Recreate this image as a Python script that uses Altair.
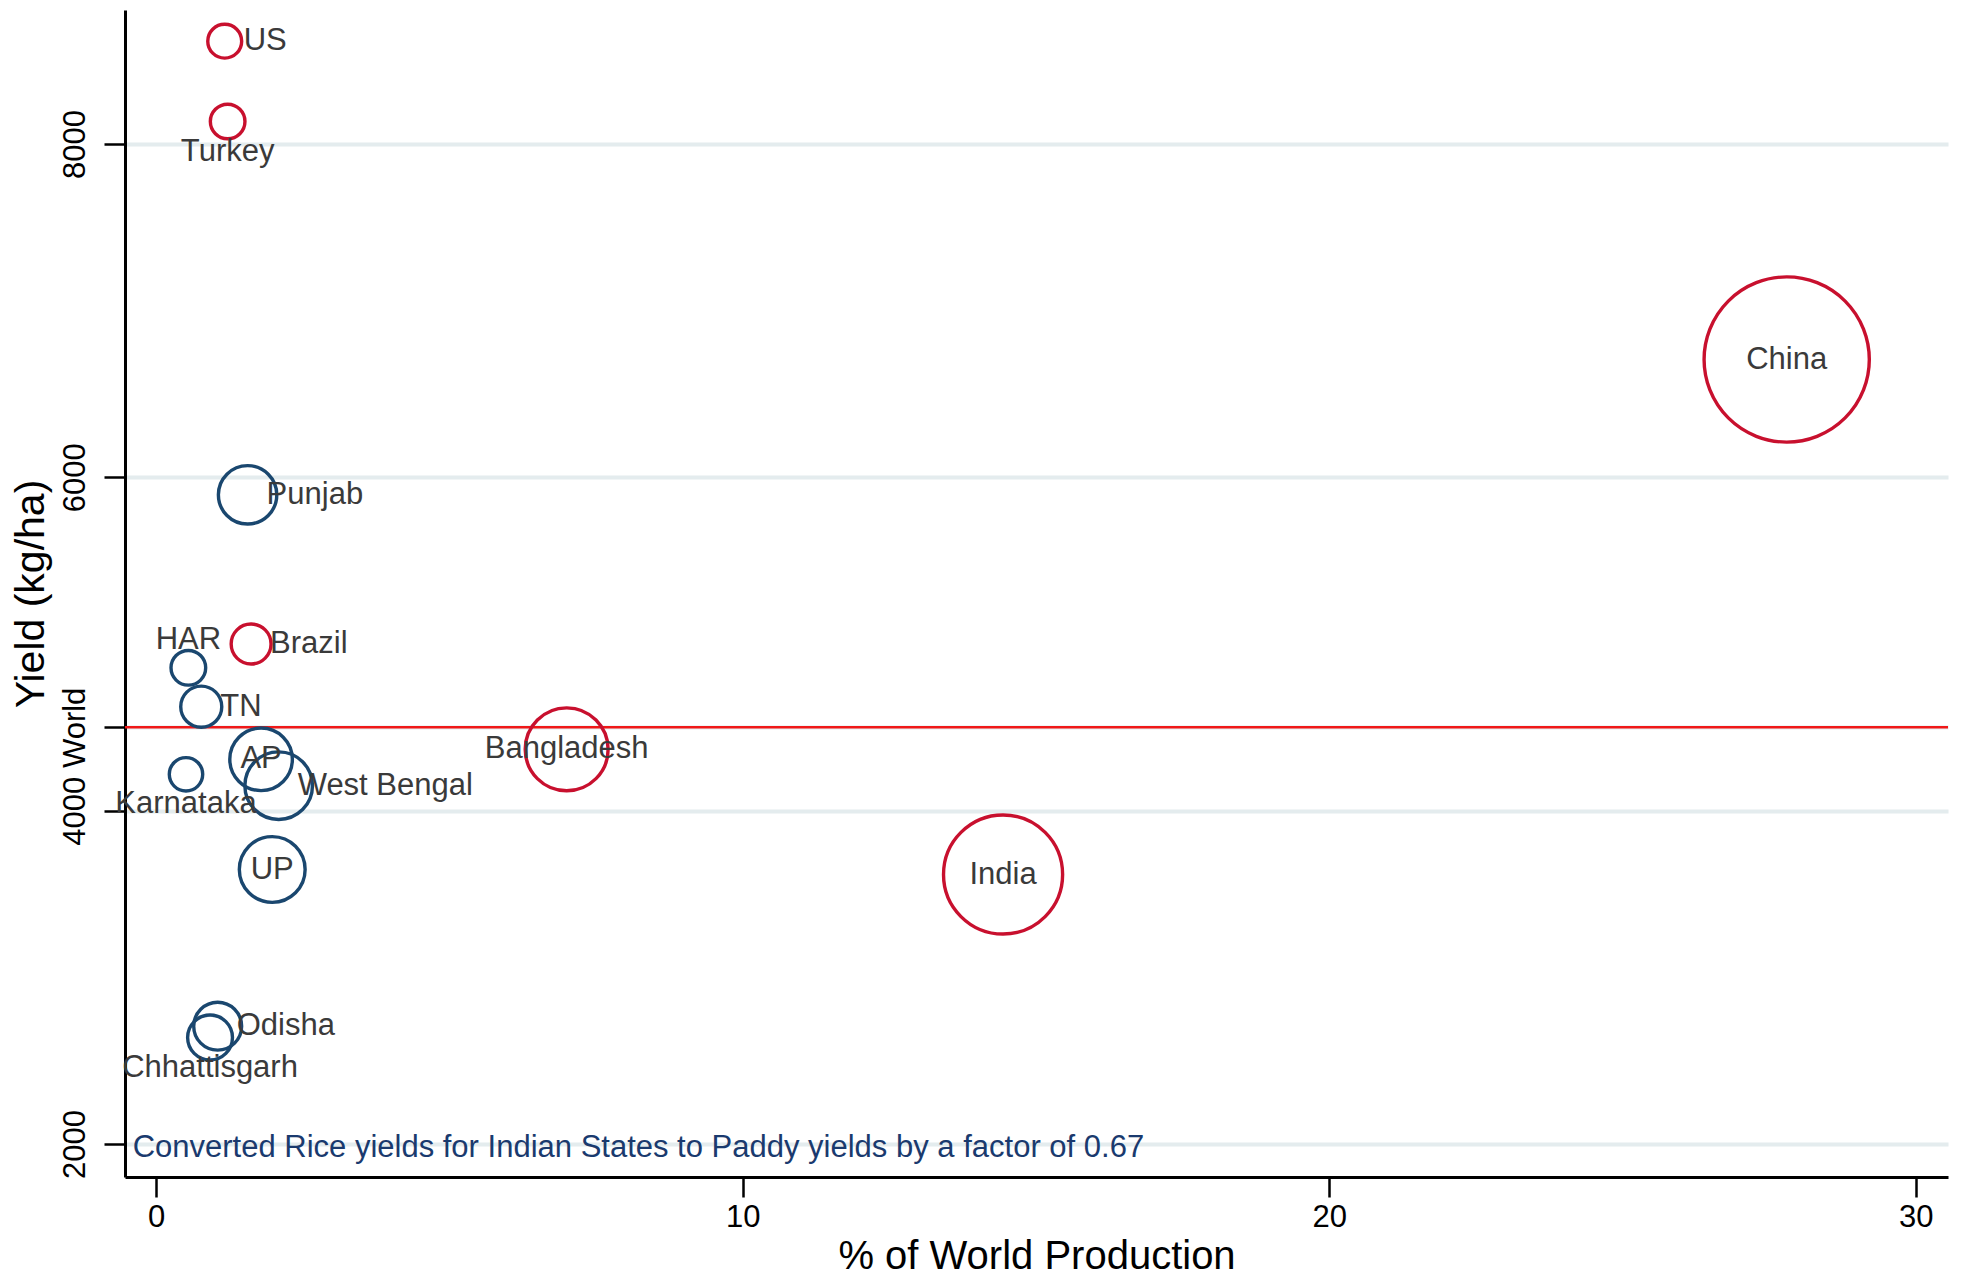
import altair as alt
import pandas as pd

# Rice: share of world production (%) vs. paddy yield (kg/ha)
countries = ["US", "Turkey", "China", "Brazil", "Bangladesh", "India"]
country_share = [1.17, 1.22, 27.8, 1.62, 7.0, 14.44]
country_yield = [8617, 8135, 6707, 5000, 4368, 3617]
country_labelpos = ["right", "bottom", "center", "right", "center", "center"]

states = ["Punjab", "HAR", "TN", "AP", "West Bengal", "Karnataka", "UP", "Odisha", "Chhattisgarh"]
state_share = [1.56, 0.55, 0.77, 1.79, 2.09, 0.51, 1.98, 1.05, 0.92]
state_yield = [5895, 4857, 4624, 4308, 4150, 4218, 3647, 2707, 2639]
state_labelpos = ["right", "top", "right", "center", "right", "bottom", "center", "right", "bottom"]

world_yield = 4500
y_ticks = [2000, 4000, 6000, 8000]
x_ticks = [0, 10, 20, 30]
note = "Converted Rice yields for Indian States to Paddy yields by a factor of 0.67"
note_x, note_y = -0.4, 1975

RED = "#C8102E"
NAVY = "#1A476F"
LABEL = "#3a3a3a"
FONT = "Liberation Sans"

cdf = pd.DataFrame({"name": countries, "share": country_share,
                    "yld": country_yield, "pos": country_labelpos, "grp": "country"})
sdf = pd.DataFrame({"name": states, "share": state_share,
                    "yld": state_yield, "pos": state_labelpos, "grp": "state"})
alldf = pd.concat([cdf, sdf], ignore_index=True)

xscale = alt.Scale(domain=[-0.53, 30.55], nice=False, zero=False)
yscale = alt.Scale(domain=[1802, 8804], nice=False, zero=False)

xaxis = alt.Axis(values=x_ticks, title="% of World Production", grid=False,
                 labelFontSize=31, titleFontSize=40, titlePadding=4,
                 labelPadding=5, tickSize=20)
yaxis = alt.Axis(values=y_ticks + [world_yield], title="Yield (kg/ha)",
                 format="d", labelAngle=270, labelAlign="center", labelBaseline="bottom",
                 labelExpr=f"datum.value == {world_yield} ? 'World' : datum.label",
                 labelOverlap=False, labelFontSize=31, titleFontSize=41,
                 titlePadding=7, labelPadding=13, tickSize=21,
                 grid=True, gridColor="#E4ECEE", gridWidth=4)

X = alt.X("share:Q", scale=xscale, axis=xaxis)
Y = alt.Y("yld:Q", scale=yscale, axis=yaxis)

world = alt.Chart(pd.DataFrame({"yld": [world_yield]})).mark_rule(
    color="#F01818", strokeWidth=2.5
).encode(y=alt.Y("yld:Q", scale=yscale, axis=yaxis))

# bubble area proportional to share, scaled separately for countries and states
country_pts = alt.Chart(cdf).mark_point(
    shape="circle", filled=False, color=RED, strokeWidth=3.4, opacity=1
).encode(
    x=X, y=Y,
    size=alt.Size("share:Q", scale=alt.Scale(domain=[0, 27.8], range=[0, 27300]), legend=None),
)

state_pts = alt.Chart(sdf).mark_point(
    shape="circle", filled=False, color=NAVY, strokeWidth=3.4, opacity=1
).encode(
    x=X, y=Y,
    size=alt.Size("share:Q", scale=alt.Scale(domain=[0, 2.09], range=[0, 4570]), legend=None),
)

base_lbl = alt.Chart(alldf).encode(x=X, y=Y, text="name:N")
lbl_kw = dict(font=FONT, fontSize=31, color=LABEL, baseline="middle")
labels = [
    base_lbl.transform_filter("datum.pos == 'center'").mark_text(align="center", **lbl_kw),
    base_lbl.transform_filter("datum.pos == 'right'").mark_text(align="left", dx=19, **lbl_kw),
    base_lbl.transform_filter("datum.pos == 'top'").mark_text(align="center", dy=-28, **lbl_kw),
    base_lbl.transform_filter("datum.pos == 'bottom'").mark_text(align="center", dy=30, **lbl_kw),
]

note_layer = alt.Chart(pd.DataFrame({"share": [note_x], "yld": [note_y], "t": [note]})).mark_text(
    align="left", baseline="middle", font=FONT, fontSize=31, color="#1A3A6E"
).encode(x=X, y=Y, text="t:N")

chart = alt.layer(world, country_pts, state_pts, *labels, note_layer).resolve_scale(
    size="independent"
).properties(
    width=1823, height=1167,
    autosize=alt.AutoSizeParams(type="none"),
    padding={"left": 125, "top": 10, "right": 15, "bottom": 101},
    background="white",
).configure_view(stroke=None).configure_axis(
    labelFont=FONT, titleFont=FONT, labelColor="black", titleColor="black",
    titleFontWeight="normal", domainColor="black", domainWidth=3,
    tickColor="black", tickWidth=2.5,
)

chart.save("out.html", embed_options={"renderer": "svg", "actions": False})
